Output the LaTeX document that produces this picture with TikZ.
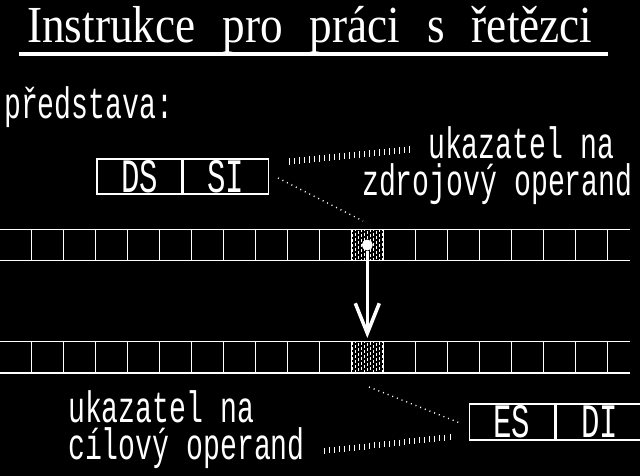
\documentclass[tikz,border=0pt]{standalone}
\usepackage{fontspec}
\setmainfont{Liberation Serif}
\newfontfamily\plotfont[FakeStretch=0.64]{Liberation Mono}
\newfontfamily\titlefont[FakeStretch=0.87]{Liberation Serif}
\usetikzlibrary{arrows.meta,calc}

% hatching of a marked cell
\newcommand{\hatchcell}[1]{%
  \begin{scope}
    \clip (#1.north west) rectangle (#1.south east);
    \foreach \k in {0,...,10} {
      \pgfmathsetmacro{\ph}{mod(\k,3)*1.7}
      \draw[white,line width=0.9pt,dash pattern=on 3pt off 2pt,dash phase=\ph pt]
        ($(#1.north west)+(1.5+3*\k,0)$) -- ($(#1.south west)+(1.5+3*\k,0)$);
    }
  \end{scope}}

\begin{document}
\begin{tikzpicture}[x=1pt,y=-1pt,
  every node/.style={inner sep=0pt},
  wire/.style={draw=white,line width=1.5pt},
  regbox/.style={draw=white,line width=1.5pt,minimum width=85pt,minimum height=35pt,
    text=white,font=\plotfont\fontsize{48}{48}\selectfont},
  cell/.style={minimum width=32pt,minimum height=31pt},
  note/.style={text=white,anchor=base west,align=left,
    font=\plotfont\fontsize{44}{37.3}\selectfont},
  leader/.style={white,line width=1.4pt,dash pattern=on 1pt off 4pt},
  tickmark/.style={white,line width=1pt},
  pointer/.style={white,line width=3.5pt,-{Straight Barb[length=30pt,width=24pt]},shorten >=3.5pt},
  dot/.style={circle,fill=white,minimum size=11pt}]
\path[use as bounding box,fill=black] (0,0) rectangle (640,476);

% Title
\node[anchor=base west,text=white,font=\titlefont\fontsize{52}{52}\selectfont] (title) at (27,43)
  {\spaceskip=27pt Instrukce pro práci s řetězci};
\draw[white,line width=3.5pt] (19,54) -- (608,54);

\node[note] (idea) at (4,119) {představa:};

% Source register pair
\node[regbox] (ds) at (139.5,176.5) {DS};
\node[regbox,anchor=west] (si) at (ds.east) {SI};

% Strings in memory
\foreach \i in {0,...,19} {
  \node[cell] (s\i) at (15.3+32*\i,245) {};
  \node[cell] (d\i) at (15.3+32*\i,357.2) {};
}
\hatchcell{s11}
\hatchcell{d11}
\foreach \i in {0,...,18} {
  \draw[white,line width=1pt] (s\i.north east) -- (s\i.south east);
  \draw[white,line width=1pt] (d\i.north east) -- (d\i.south east);
}
\draw[wire] (s0.north west) -- ++(631,0);
\draw[wire] (s0.south west) -- ++(631,0);
\draw[wire] (d0.north west) -- ++(631,0);
\draw[wire] (d0.south west) -- ++(631,0);

% Move
\node[dot] (src) at (s11.center) {};
\draw[pointer] (src) -- (d11.north);

% Source pointer
\coordinate (srcA) at (289,161.7);
\coordinate (srcB) at (409,149.7);
\foreach \k in {0,...,24}
  \draw[tickmark] ($(srcA)!{\k/24}!(srcB)$) +(0,-3.3) -- +(0,3.3);
\coordinate (srcC) at (278,178);
\coordinate (srcD) at (363,221);
\draw[leader] (srcC) -- (srcD);
\node[note] (srcnote) at (362,195.3) {\hspace*{66pt}ukazatel na\\zdrojový operand};

% Destination register pair
\node[regbox,minimum height=36pt] (es) at (511.8,422) {ES};
\node[regbox,minimum height=36pt,minimum width=88pt,anchor=west] (di) at (es.east) {DI};

% Destination pointer
\coordinate (dstC) at (369,387);
\coordinate (dstD) at (460,423);
\draw[leader] (dstC) -- (dstD);
\coordinate (dstA) at (324,451);
\coordinate (dstB) at (450,437);
\foreach \k in {0,...,25}
  \draw[tickmark] ($(dstA)!{\k/25}!(dstB)$) +(0,-3) -- +(0,3);
\node[note] (dstnote) at (68,459.3) {ukazatel na\\cílový operand};
\end{tikzpicture}
\end{document}
